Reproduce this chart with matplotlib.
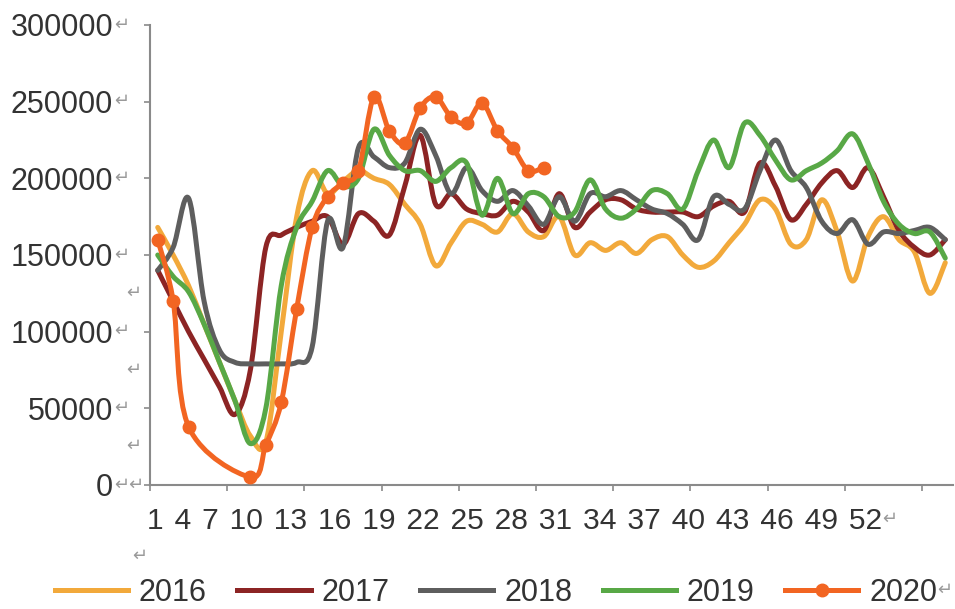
import numpy as np
import matplotlib
matplotlib.use("Agg")
import matplotlib.pyplot as plt
from matplotlib.lines import Line2D
from matplotlib.path import Path
from matplotlib.patches import PathPatch
from matplotlib.transforms import blended_transform_factory

plt.rcParams['font.family'] = ['Liberation Sans', 'DejaVu Sans']

# weekly values, week 1..52
weeks = np.arange(1, 53)

y2016 = [168000, 150000, 130000, 105000, 80000, 55000, 32000, 28000, 100000, 175000,
         205000, 190000, 198000, 205000, 200000, 196000, 183000, 170000, 143000, 158000,
         172000, 170000, 165000, 177000, 165000, 162000, 175000, 150000, 158000, 153000,
         158000, 151000, 160000, 162000, 150000, 142000, 146000, 158000, 170000, 186000,
         180000, 157000, 160000, 186000, 165000, 133000, 162000, 175000, 160000, 152000,
         125000, 145000]

y2017 = [140000, 120000, 100000, 82000, 64000, 46000, 75000, 155000, 163000, 168000,
         172000, 175000, 157000, 177000, 172000, 163000, 195000, 228000, 183000, 190000,
         180000, 177000, 176000, 185000, 178000, 166000, 190000, 168000, 178000, 186000,
         186000, 180000, 178000, 178000, 178000, 175000, 182000, 185000, 178000, 210000,
         195000, 173000, 183000, 197000, 205000, 194000, 207000, 188000, 166000, 155000,
         150000, 160000]

y2018 = [140000, 155000, 187000, 120000, 88000, 80000, 79000, 79000, 79000, 80000,
         90000, 172000, 155000, 220000, 214000, 207000, 210000, 232000, 215000, 190000,
         207000, 192000, 185000, 192000, 182000, 170000, 188000, 172000, 190000, 188000,
         192000, 186000, 180000, 177000, 170000, 160000, 188000, 183000, 180000, 205000,
         225000, 205000, 194000, 172000, 164000, 173000, 157000, 165000, 164000, 166000,
         168000, 160000]

y2019 = [150000, 136000, 126000, 105000, 80000, 55000, 27000, 50000, 130000, 168000,
         185000, 205000, 195000, 200000, 232000, 215000, 205000, 205000, 198000, 207000,
         210000, 176000, 200000, 177000, 190000, 188000, 175000, 178000, 199000, 180000,
         174000, 180000, 192000, 190000, 180000, 205000, 225000, 207000, 236000, 228000,
         212000, 199000, 205000, 210000, 218000, 229000, 210000, 185000, 170000, 164000,
         165000, 148000]

nan = np.nan
y2020 = [160000, 120000, 38000, nan, nan, nan, 5000, 26000, 54000, 115000,
         168000, 188000, 197000, 205000, 253000, 231000, 223000, 246000, 253000, 240000,
         236000, 249000, 231000, 220000, 205000, 207000] + [nan] * 26

series = [("2016", y2016, "#F2A93B"),
          ("2017", y2017, "#8C2424"),
          ("2018", y2018, "#5E5E5E"),
          ("2019", y2019, "#58A846"),
          ("2020", y2020, "#F26522")]

yticks = [0, 50000, 100000, 150000, 200000, 250000, 300000]
xlabels = [str(w) for w in range(1, 53, 3)]


def smooth_path(x, y):
    # Excel-style smoothed line: cubic Bezier through every data point
    pts = np.column_stack([x, y])
    n = len(pts)
    verts = [pts[0]]
    codes = [Path.MOVETO]
    for i in range(n - 1):
        p0 = pts[i - 1] if i > 0 else pts[i]
        p1, p2 = pts[i], pts[i + 1]
        p3 = pts[i + 2] if i + 2 < n else pts[i + 1]
        verts += [p1 + (p2 - p0) / 6, p2 - (p3 - p1) / 6, p2]
        codes += [Path.CURVE4] * 3
    return Path(verts, codes)


W, H = 955, 609
fig = plt.figure(figsize=(W / 100, H / 100), dpi=100)
ax = fig.add_axes([150 / W, 1 - 485 / H, (953 - 150) / W, (485 - 25) / H])

handles = []
for i, (name, vals, col) in enumerate(series):
    vals = np.array(vals, dtype=float)
    ok = ~np.isnan(vals)
    ax.add_patch(PathPatch(smooth_path(weeks[ok], vals[ok]), fill=False,
                           edgecolor=col, lw=3.6, joinstyle='round',
                           capstyle='round', zorder=2 + i))
    if name == "2020":
        ax.plot(weeks[ok], vals[ok], ls='none', color=col, marker='o', ms=9, zorder=8)
        handles.append(Line2D([], [], color=col, lw=3.6, marker='o', ms=9))
    else:
        handles.append(Line2D([], [], color=col, lw=3.6))

ax.set_xlim(0.5, 52.5)
ax.set_ylim(0, 300000)
ax.set_yticks(yticks)
ax.set_yticklabels([str(v) for v in yticks], fontsize=22, color='#333333')
ax.set_xticks(np.arange(0.5, 52, 5))
ax.set_xticklabels([])
ax.tick_params(axis='y', direction='out', length=4.5, width=1.2, color='#8a8a8a', pad=22)
ax.tick_params(axis='x', direction='out', length=4.5, width=1.2, color='#8a8a8a')
for s in ['top', 'right']:
    ax.spines[s].set_visible(False)
for s in ['left', 'bottom']:
    ax.spines[s].set_color('#8a8a8a')
    ax.spines[s].set_linewidth(1.5)

# Word paragraph marks next to the tick labels
tr = blended_transform_factory(fig.transFigure, ax.transData)
for v in yticks:
    mark = "\u21b5\u21b5" if v == 0 else "\u21b5"
    ax.text(114 / W, v, mark, transform=tr, fontsize=13, color='#9a9a9a',
            va='center', ha='left', clip_on=False)
for v in [125000, 75000, 25000]:
    ax.text(126 / W, v, "\u21b5", transform=tr, fontsize=13, color='#9a9a9a',
            va='center', ha='left', clip_on=False)

# category labels, flowed as one text line
sep = " \u200a"
fig.text(147 / W, 1 - 521 / H, sep.join(xlabels), fontsize=21.6, color='#333333',
         va='center', ha='left')
fig.text(882 / W, 1 - 519 / H, "\u21b5", fontsize=13, color='#9a9a9a', va='center')
fig.text(132 / W, 1 - 556 / H, "\u21b5", fontsize=13, color='#9a9a9a', va='center')

fig.legend(handles, [s[0] for s in series], loc='center',
           bbox_to_anchor=(496 / W, 1 - 593 / H), ncol=5, frameon=False,
           fontsize=22, handlelength=2.4, handletextpad=0.35, columnspacing=1.0,
           labelcolor='#333333')
fig.text(937 / W, 1 - 590 / H, "\u21b5", fontsize=13, color='#9a9a9a', va='center')

fig.savefig("out.png", dpi=100)
